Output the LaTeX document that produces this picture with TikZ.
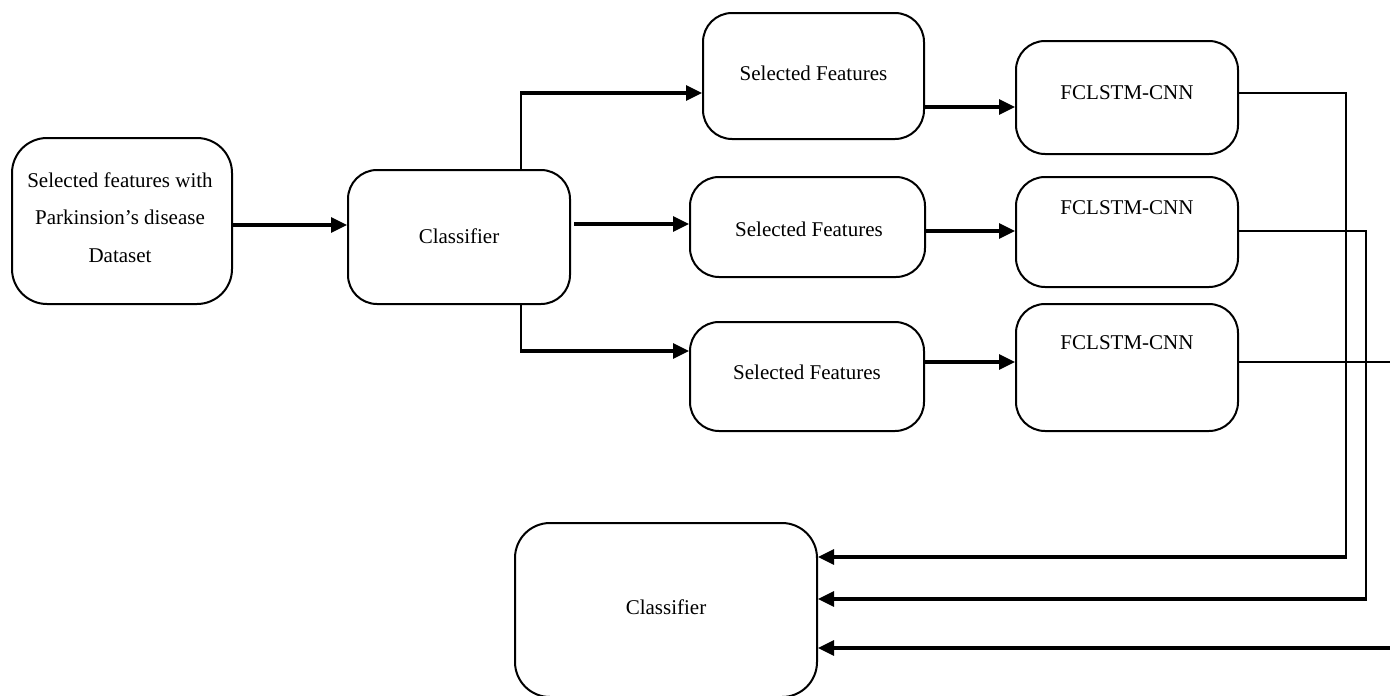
\documentclass[tikz,border=0pt]{standalone}
\usepackage{fontspec}
\setmainfont{Liberation Serif}
\usetikzlibrary{arrows.meta}
\begin{document}
\begin{tikzpicture}[x=1pt,y=-1pt,
  boxwh/.style 2 args={draw,line width=2pt,rounded corners=29pt,minimum width=#1,minimum height=#2,inner sep=0pt},
  txt/.style={font=\fontsize{21}{37.5}\selectfont,inner sep=0pt,align=center},
  arr/.style={line width=3.2pt,-{Triangle[length=16pt,width=15pt]}},
  thin/.style={line width=2pt}]
\useasboundingbox (0,0) rectangle (1390,696);
% boxes
\node[boxwh={220pt}{166pt},rounded corners=35pt] (A) at (122,221) {};
\node[boxwh={222pt}{134pt}] (C1) at (459,237) {};
\node[boxwh={221pt}{126pt}] (SF1) at (813.5,76) {};
\node[boxwh={235pt}{100pt}] (SF2) at (807.5,227) {};
\node[boxwh={234pt}{109pt}] (SF3) at (807,376.5) {};
\node[boxwh={222pt}{113pt}] (FC1) at (1127,97.5) {};
\node[boxwh={222pt}{110pt}] (FC2) at (1127,232) {};
\node[boxwh={222pt}{127pt}] (FC3) at (1127,367.5) {};
\node[boxwh={302pt}{174pt},rounded corners=35pt] (C2) at (666,610) {};
% texts
\node[txt] (tA) at (120,217.5) {Selected features with\\Parkinsion’s disease\\Dataset};
\node[txt] (tC1) at (459,236) {Classifier};
\node[txt] (tSF1) at (813.5,73) {Selected Features};
\node[txt] (tSF2) at (809,229) {Selected Features};
\node[txt] (tSF3) at (807,372) {Selected Features};
\node[txt] (tFC1) at (1127,93) {FCLSTM-CNN};
\node[txt] (tFC2) at (1127,208) {FCLSTM-CNN};
\node[txt] (tFC3) at (1127,343) {FCLSTM-CNN};
\node[txt] (tC2) at (666,607) {Classifier};
% connectors
\coordinate (b1) at (521,93);
\coordinate (b3) at (521,351);
\draw[arr] (A.east |- 0,225) -- (C1.west |- 0,225);
\draw[thin] (C1.north -| b1) -- ([yshift=-1pt]b1);
\draw[arr] ([xshift=-1pt]b1) -- (SF1.west |- b1);
\draw[arr] ([xshift=3pt]C1.east |- 0,224) -- (SF2.west |- 0,224);
\draw[thin] (C1.south -| b3) -- ([yshift=1pt]b3);
\draw[arr] ([xshift=-1pt]b3) -- (SF3.west |- b3);
\draw[arr] (SF1.east |- 0,107) -- (FC1.west |- 0,107);
\draw[arr] (SF2.east |- 0,231) -- (FC2.west |- 0,231);
\draw[arr] (SF3.east |- 0,362) -- (FC3.west |- 0,362);
\coordinate (r1) at (1346,557);
\coordinate (r2) at (1366,599);
\coordinate (e3) at (1390,362);
\coordinate (e4) at (1390,648);
\draw[thin] (FC1.east |- 0,93) -- (1346,93) -- (r1);
\draw[thin] (FC2.east |- 0,231) -- (1366,231) -- (r2);
\draw[thin] (FC3.east |- 0,362) -- (e3);
\draw[arr] ([xshift=1pt]r1) -- (C2.east |- r1);
\draw[arr] ([xshift=1pt]r2) -- (C2.east |- r2);
\draw[arr] (e4) -- (C2.east |- e4);
\end{tikzpicture}
\end{document}
